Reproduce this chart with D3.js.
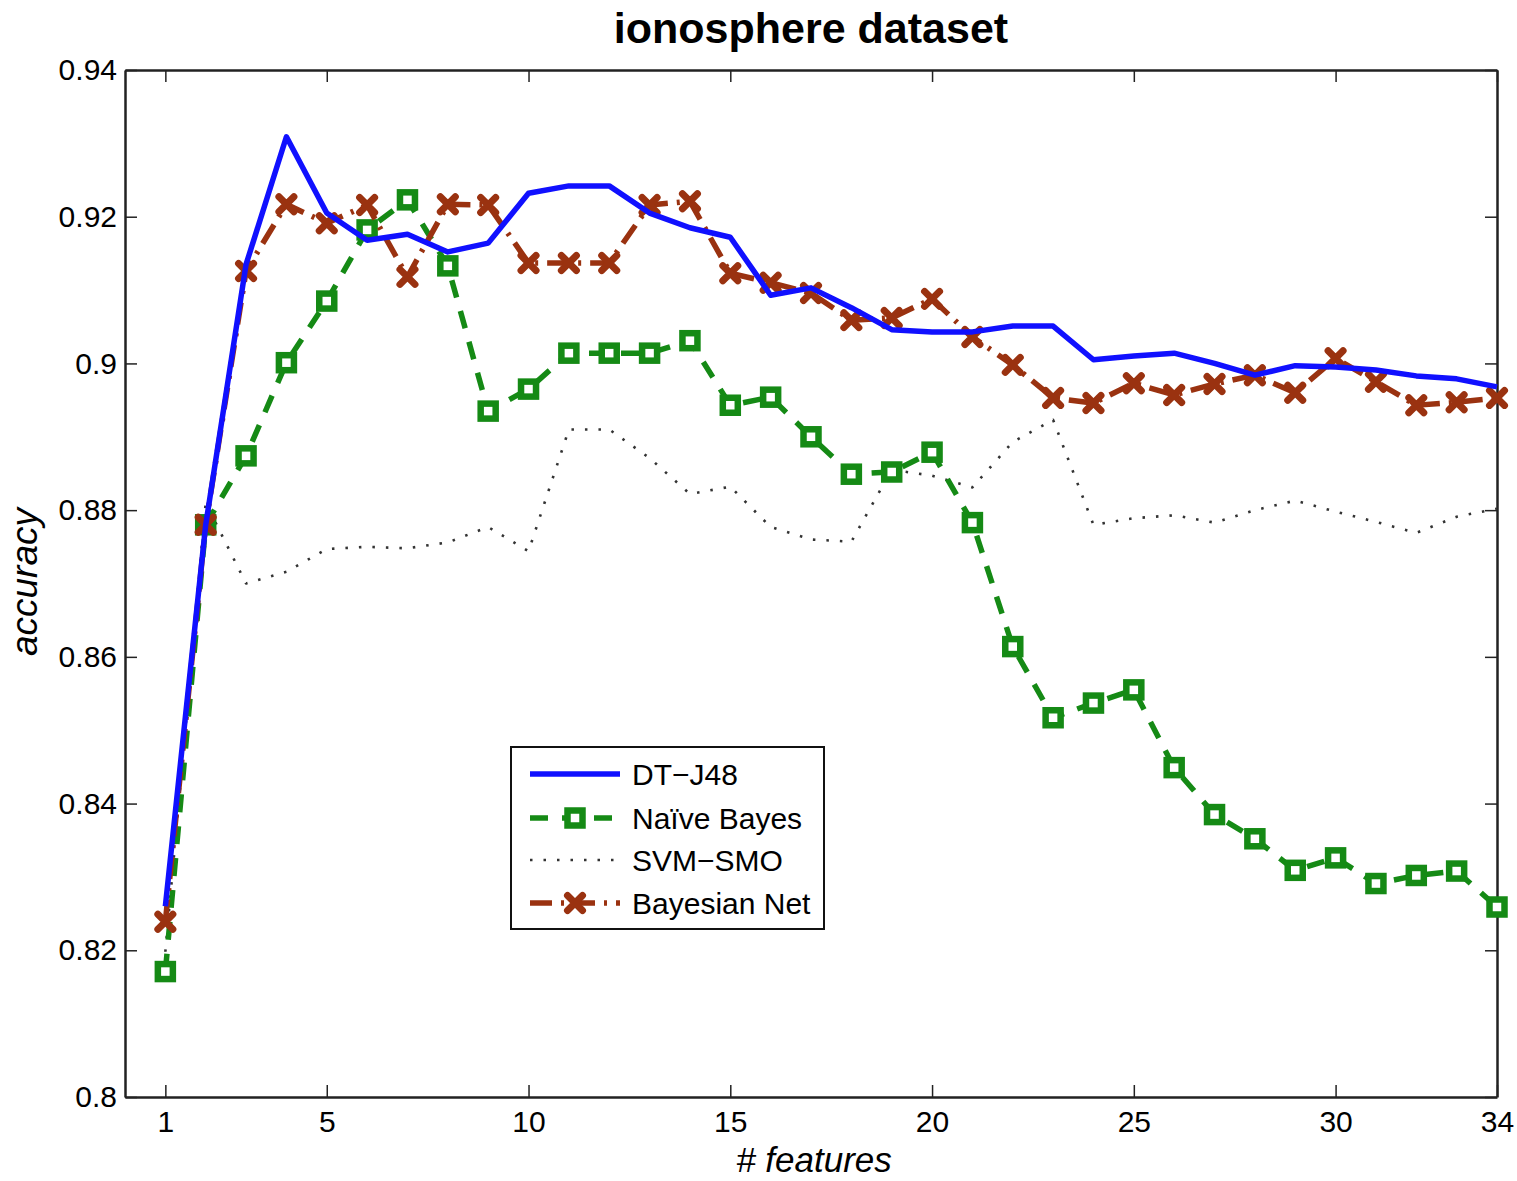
<!DOCTYPE html>
<html>
<head>
<meta charset="utf-8">
<script src="https://cdn.jsdelivr.net/npm/d3@7"></script>
<style>
  body { margin: 0; background: #fff; }
  text { font-family: "Liberation Sans", Arial, Helvetica, sans-serif; fill: #000; }
</style>
</head>
<body>
<svg id="chart" width="1517" height="1181"></svg>
<script>
// number of selected features
const features = d3.range(1, 35);

// accuracy per classifier
const dtJ48 = [0.826, 0.878, 0.9135, 0.9309, 0.9205, 0.9168, 0.9176, 0.9152, 0.9164, 0.9232,
  0.9242, 0.9242, 0.9205, 0.9185, 0.9172, 0.9093, 0.9103, 0.9076, 0.9046, 0.9043,
  0.9043, 0.9051, 0.9051, 0.9005, 0.901, 0.9014, 0.9, 0.8984, 0.8997, 0.8995,
  0.8991, 0.8983, 0.8979, 0.8968];
const naiveBayes = [0.8171, 0.878, 0.8874, 0.9001, 0.9085, 0.9182, 0.9223, 0.9133, 0.8935, 0.8965,
  0.9014, 0.9014, 0.9014, 0.9031, 0.8943, 0.8954, 0.89, 0.8849, 0.8852, 0.8879,
  0.8783, 0.8614, 0.8517, 0.8537, 0.8555, 0.8449, 0.8385, 0.8352, 0.8309, 0.8326,
  0.8291, 0.8302, 0.8308, 0.8259];
const svmSmo = [0.8198, 0.881, 0.870, 0.8716, 0.8747, 0.875, 0.8748, 0.8756, 0.8777, 0.8744,
  0.891, 0.891, 0.8871, 0.8822, 0.8832, 0.8777, 0.876, 0.8757, 0.8855, 0.8847,
  0.8831, 0.8893, 0.8923, 0.878, 0.8789, 0.8793, 0.8783, 0.880, 0.8813, 0.8798,
  0.8784, 0.8769, 0.8791, 0.8802];
const bayesNet = [0.8239, 0.878, 0.9126, 0.9217, 0.9191, 0.9216, 0.9118, 0.9217, 0.9216, 0.9137,
  0.9137, 0.9137, 0.9216, 0.9221, 0.9123, 0.911, 0.9096, 0.9059, 0.9062, 0.9088,
  0.9036, 0.8998, 0.8953, 0.8946, 0.8973, 0.8957, 0.8972, 0.8984, 0.896, 0.9007,
  0.8975, 0.8943, 0.8947, 0.8953];

const xTicks = [1, 5, 10, 15, 20, 25, 30, 34];
const yTicks = [0.8, 0.82, 0.84, 0.86, 0.88, 0.9, 0.92, 0.94];

const series = [
  { name: "DT\u2212J48", values: dtJ48, color: "#1010ff", width: 5.5, dash: null, marker: null },
  { name: "Na\u00efve Bayes", values: naiveBayes, color: "#158a15", width: 5.5, dash: "18,14", marker: "square" },
  { name: "SVM\u2212SMO", values: svmSmo, color: "#333", width: 2.6, dash: "2.5,11", marker: null },
  { name: "Bayesian Net", values: bayesNet, color: "#9a3210", width: 5.5, dash: "22,9,3,9", marker: "cross" }
];

const svg = d3.select("#chart");
const margin = { left: 125, right: 1497, top: 70, bottom: 1097 };

const x = d3.scaleLinear().domain([0, 34]).range([margin.left, margin.right]);
const y = d3.scaleLinear().domain([0.8, 0.94]).range([margin.bottom, margin.top]);

// frame with MATLAB style inward ticks on all sides
svg.append("g").attr("transform", `translate(0,${margin.bottom})`)
  .call(d3.axisBottom(x).tickValues(xTicks).tickSizeInner(-12).tickSizeOuter(0).tickPadding(14).tickFormat(d3.format("d")))
  .call(g => g.selectAll("text").attr("font-size", 30).attr("dy", "0.71em"));
svg.append("g").attr("transform", `translate(0,${margin.top})`)
  .call(d3.axisTop(x).tickValues(xTicks).tickSizeInner(-12).tickSizeOuter(0).tickFormat(""));
svg.append("g").attr("transform", `translate(${margin.left},0)`)
  .call(d3.axisLeft(y).tickValues(yTicks).tickSizeInner(-12).tickSizeOuter(0).tickPadding(8).tickFormat(d => String(+d.toFixed(2))))
  .call(g => g.selectAll("text").attr("font-size", 30));
svg.append("g").attr("transform", `translate(${margin.right},0)`)
  .call(d3.axisRight(y).tickValues(yTicks).tickSizeInner(-12).tickSizeOuter(0).tickFormat(""));
svg.selectAll(".domain").attr("stroke", "#222").attr("stroke-width", 2.5);
svg.selectAll(".tick line").attr("stroke", "#222").attr("stroke-width", 1.5);
svg.selectAll(".tick text").attr("fill", "#000").style("font-family", "Liberation Sans, Arial, sans-serif");

const line = d3.line().x((d, i) => x(features[i])).y(d => y(d));

function drawMarker(g, type, cx, cy, color) {
  if (type === "square") {
    g.append("rect").attr("x", cx - 7.5).attr("y", cy - 7.5).attr("width", 15).attr("height", 15)
      .attr("fill", "#fff").attr("stroke", color).attr("stroke-width", 6.5);
  } else if (type === "cross") {
    g.append("path").attr("d", `M${cx - 7.5},${cy - 7.5}L${cx + 7.5},${cy + 7.5}M${cx - 7.5},${cy + 7.5}L${cx + 7.5},${cy - 7.5}`)
      .attr("stroke", color).attr("stroke-width", 7).attr("stroke-linecap", "round");
  }
}

// draw order: SVM behind, then naive bayes, bayes net, J48 on top
const order = [2, 1, 3, 0];
order.forEach(k => {
  const s = series[k];
  const g = svg.append("g");
  g.append("path").datum(s.values).attr("d", line)
    .attr("fill", "none").attr("stroke", s.color).attr("stroke-width", s.width)
    .attr("stroke-dasharray", s.dash).attr("stroke-linejoin", "round");
  if (s.marker) s.values.forEach((v, i) => drawMarker(g, s.marker, x(features[i]), y(v), s.color));
});

// legend
const lg = svg.append("g");
lg.append("rect").attr("x", 511).attr("y", 747).attr("width", 313).attr("height", 182)
  .attr("fill", "#fff").attr("stroke", "#111").attr("stroke-width", 2);
const rowY = [774, 818, 860, 903];
series.forEach((s, i) => {
  const ly = rowY[i];
  lg.append("line").attr("x1", 530).attr("x2", 620).attr("y1", ly).attr("y2", ly)
    .attr("stroke", s.color).attr("stroke-width", s.width).attr("stroke-dasharray", s.dash);
  if (s.marker) drawMarker(lg, s.marker, 575, ly, s.color);
  lg.append("text").attr("x", 632).attr("y", ly).attr("dy", "0.36em").attr("font-size", 30).text(s.name);
});

// titles
svg.append("text").attr("x", 811).attr("y", 43).attr("text-anchor", "middle")
  .attr("font-size", 43).attr("font-weight", "bold").text("ionosphere dataset");
svg.append("text").attr("x", 814).attr("y", 1172).attr("text-anchor", "middle")
  .attr("font-size", 35).attr("font-style", "italic").text("# features");
svg.append("text").attr("transform", "translate(37,582) rotate(-90)").attr("text-anchor", "middle")
  .attr("font-size", 37).attr("font-style", "italic").text("accuracy");
</script>
</body>
</html>
